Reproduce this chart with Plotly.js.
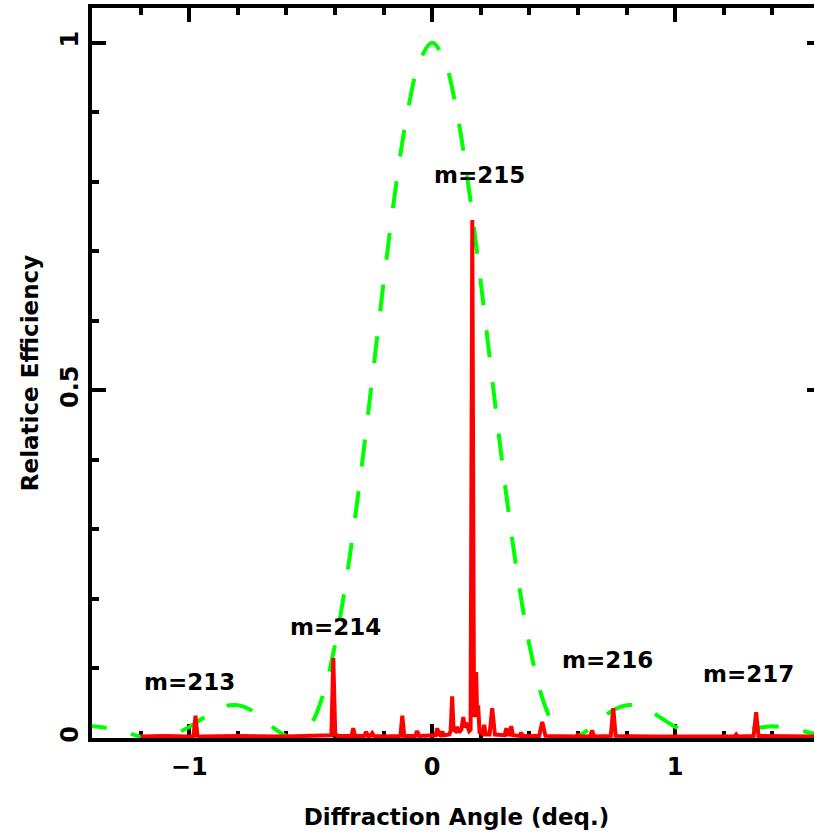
<!DOCTYPE html>
<html>
<head>
<meta charset="utf-8">
<script src="https://cdn.plot.ly/plotly-3.0.1.min.js"></script>
<style>
html, body { margin: 0; padding: 0; overflow: hidden; background: #fff; }
#chart { width: 832px; height: 833px; }
</style>
</head>
<body>
<div id="chart"></div>
<script>
// Envelope (green dashed): diffraction angle (deg) and relative efficiency
const envX = [-1.45,-1.40,-1.35,-1.30,-1.25,-1.20,-1.15,-1.10,-1.05,-1.00,-0.95,-0.90,-0.85,-0.80,-0.75,-0.70,-0.65,-0.60,-0.55,-0.50,-0.45,-0.40,-0.35,-0.30,-0.25,-0.20,-0.15,-0.10,-0.05,0.00,0.05,0.10,0.15,0.20,0.25,0.30,0.35,0.40,0.45,0.50,0.55,0.60,0.65,0.70,0.75,0.80,0.85,0.90,0.95,1.00,1.05,1.10,1.15,1.20,1.25,1.30,1.35,1.40,1.45,1.50,1.55,1.60];
const envY = [0.015,0.017,0.015,0.012,0.007,0.002,0.000,0.001,0.007,0.016,0.027,0.038,0.046,0.047,0.041,0.029,0.014,0.003,0.001,0.019,0.061,0.134,0.236,0.363,0.507,0.655,0.792,0.903,0.975,1.000,0.975,0.903,0.792,0.655,0.507,0.363,0.236,0.134,0.061,0.019,0.001,0.003,0.014,0.029,0.041,0.047,0.046,0.038,0.027,0.016,0.007,0.001,0.000,0.002,0.007,0.012,0.015,0.017,0.015,0.012,0.008,0.004];

// Measured efficiency (red solid)
const effX = [-1.2,-1.1,-1.0,-0.982,-0.974,-0.966,-0.95,-0.8,-0.6,-0.5,-0.43,-0.415,-0.407,-0.399,-0.385,-0.34,-0.332,-0.325,-0.318,-0.28,-0.272,-0.264,-0.255,-0.247,-0.24,-0.2,-0.131,-0.123,-0.115,-0.07,-0.062,-0.054,0.0,0.014,0.021,0.028,0.034,0.041,0.048,0.07,0.076,0.082,0.088,0.096,0.103,0.11,0.12,0.128,0.134,0.14,0.152,0.158,0.165,0.172,0.177,0.181,0.185,0.189,0.195,0.207,0.214,0.221,0.236,0.247,0.258,0.28,0.298,0.305,0.312,0.318,0.325,0.332,0.36,0.366,0.372,0.44,0.453,0.466,0.55,0.594,0.6,0.606,0.65,0.658,0.666,0.735,0.745,0.755,0.9,1.1,1.244,1.251,1.258,1.323,1.333,1.343,1.45,1.6];
const effY = [0.002,0.003,0.002,0.003,0.032,0.003,0.002,0.003,0.002,0.003,0.003,0.004,0.115,0.005,0.003,0.003,0.003,0.014,0.003,0.003,0.009,0.003,0.003,0.007,0.003,0.002,0.003,0.032,0.003,0.003,0.010,0.003,0.003,0.004,0.014,0.005,0.004,0.009,0.004,0.005,0.010,0.060,0.012,0.010,0.016,0.008,0.012,0.030,0.015,0.022,0.010,0.012,0.745,0.030,0.050,0.095,0.030,0.047,0.008,0.006,0.019,0.005,0.005,0.043,0.005,0.004,0.004,0.014,0.005,0.005,0.017,0.004,0.003,0.008,0.003,0.003,0.023,0.003,0.002,0.002,0.006,0.002,0.002,0.011,0.002,0.003,0.043,0.003,0.002,0.002,0.002,0.005,0.002,0.003,0.037,0.003,0.002,0.002];

// Order labels
const orderLabels = ["m=213","m=214","m=215","m=216","m=217"];
const orderX = [-1.0,-0.40,0.195,0.72,1.30];
const orderY = [0.080,0.160,0.810,0.112,0.092];

const xTickVals = [-1, 0, 1];
const xTickText = ["\u22121", "0", "1"];
const yTickVals = [0, 0.5, 1];
const yTickText = ["0", "0.5", "1"];

const FONT = 'DejaVu Sans';

const traces = [
  {
    x: envX, y: envY, type: 'scatter', mode: 'lines',
    line: {color: '#00ff00', width: 4, dash: '27px,25px', shape: 'spline', smoothing: 1},
    hoverinfo: 'skip', showlegend: false
  },
  {
    x: effX, y: effY, type: 'scatter', mode: 'lines',
    line: {color: '#ff0000', width: 4},
    hoverinfo: 'skip', showlegend: false
  }
];

const axisCommon = {
  showgrid: false, zeroline: false, showline: true,
  linecolor: '#000', linewidth: 4, mirror: 'allticks',
  ticks: 'inside', ticklen: 14, tickwidth: 4, tickcolor: '#000',
  layer: 'below traces',
  tickfont: {family: FONT, size: 24, color: '#000', weight: 'bold'}
};

const layout = {
  width: 832, height: 833,
  margin: {l: 92, r: 11, t: 8, b: 95},
  paper_bgcolor: '#fff', plot_bgcolor: '#fff',
  showlegend: false,
  xaxis: Object.assign({}, axisCommon, {
    range: [-1.4, 1.6],
    tickmode: 'array', tickvals: xTickVals, ticktext: xTickText,
    ticklabelstandoff: 4,
    minor: {dtick: 0.2, tick0: 0, ticks: 'inside', ticklen: 7, tickwidth: 4, tickcolor: '#000', showgrid: false},
    title: {text: 'Diffraction Angle (deq.)', font: {family: FONT, size: 23, color: '#000', weight: 'bold'}, standoff: 30}
  }),
  yaxis: Object.assign({}, axisCommon, {
    range: [0, 1.05],
    tickmode: 'array', tickvals: yTickVals, ticktext: yTickText,
    tickangle: -90,
    minor: {dtick: 0.1, tick0: 0, ticks: 'inside', ticklen: 7, tickwidth: 4, tickcolor: '#000', showgrid: false},
    title: {text: 'Relatice Efficiency', font: {family: FONT, size: 23, color: '#000', weight: 'bold'}, standoff: 12}
  }),
  annotations: orderLabels.map((t, i) => ({
    text: t, x: orderX[i], y: orderY[i], xref: 'x', yref: 'y',
    showarrow: false, xanchor: 'center', yanchor: 'middle',
    font: {family: FONT, size: 23, color: '#000', weight: 'bold'}
  }))
};

Plotly.newPlot('chart', traces, layout, {staticPlot: true, displayModeBar: false});
</script>
</body>
</html>
